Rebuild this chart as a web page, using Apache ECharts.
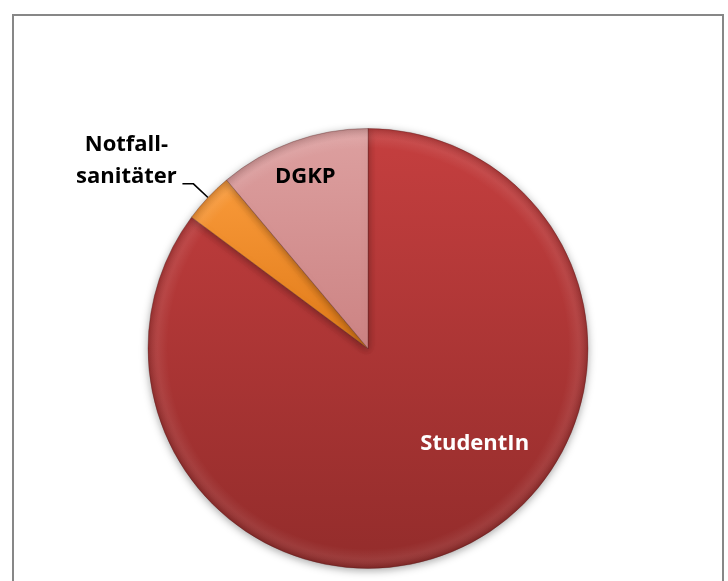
<!DOCTYPE html>
<html>
<head>
<meta charset="utf-8">
<script src="https://cdn.jsdelivr.net/npm/echarts@6/dist/echarts.min.js"></script>
<style>
html,body{margin:0;padding:0;background:#fff;}
#frame{position:absolute;left:12px;top:14px;width:708px;height:600px;border:2px solid #878787;border-bottom:none;box-sizing:content-box;}
#chart{position:absolute;left:0;top:0;width:728px;height:581px;}
</style>
</head>
<body>
<div id="frame"></div>
<div id="chart"></div>
<script>
const categories = ['StudentIn', 'Notfall-\nsanitäter', 'DGKP'];
const values = [69, 3, 9];
const topColors = ['#C53F3F', '#F99A3A', '#DDA0A0'];
const bottomColors = ['#932C2B', '#E07A18', '#CC8383'];
const textColors = ['#FFFFFF', '#000000', '#000000'];

const chart = echarts.init(document.getElementById('chart'), null, {renderer: 'canvas'});
const FONT = '"Open Sans"';
const FS = 22;
const CX = 368, CY = 348.5, R = 220;

const data = categories.map((name, i) => {
  const item = {
    name: name,
    value: values[i],
    itemStyle: {
      color: new echarts.graphic.LinearGradient(0, 0, 0, 1, [
        {offset: 0, color: topColors[i]},
        {offset: 1, color: bottomColors[i]}
      ]),
      borderColor: 'rgba(90,30,30,0.55)',
      borderWidth: 0.6
    },
    label: {
      color: textColors[i]
    }
  };
  if (i === 1) {
    item.label = {
      show: true,
      position: 'outside',
      formatter: '{a|Notfall-}\n{a|sanitäter}',
      padding: [0, 0, 46, 0],
      rich: {a: {width: 100, align: 'center', fontSize: FS, fontWeight: 'bold', fontFamily: FONT, color: '#000', lineHeight: 32}}
    };
    item.labelLine = {show: true, length: 20, length2: 11, lineStyle: {color: '#000', width: 1.6}};
  } else {
    item.label.position = 'inside';
    item.labelLine = {show: false};
  }
  return item;
});

const offsets = [[56, -6], [0, 0], [-24, -66]];

chart.setOption({
  animation: false,
  series: [{
    type: 'pie',
    center: [CX, CY],
    radius: [0, R],
    startAngle: 90,
    clockwise: true,
    avoidLabelOverlap: false,
    itemStyle: {
      shadowBlur: 8,
      shadowColor: 'rgba(0,0,0,0.35)',
      shadowOffsetY: 2
    },
    label: {
      show: true,
      fontFamily: FONT,
      fontWeight: 'bold',
      fontSize: FS,
      distanceToLabelLine: 6
    },
    labelLayout: function (params) {
      const o = offsets[params.dataIndex];
      if (params.dataIndex === 1) return {};
      return {dx: o[0], dy: o[1]};
    },
    emphasis: {disabled: true},
    data: data
  }, {
    type: 'pie',
    center: [CX, CY],
    radius: [0, R],
    silent: true,
    label: {show: false},
    labelLine: {show: false},
    emphasis: {disabled: true},
    itemStyle: {
      borderWidth: 0,
      color: new echarts.graphic.RadialGradient(CX, CY, R, [
        {offset: 0, color: 'rgba(0,0,0,0)'},
        {offset: 0.91, color: 'rgba(255,255,255,0)'},
        {offset: 0.955, color: 'rgba(255,255,255,0.07)'},
        {offset: 1, color: 'rgba(0,0,0,0.16)'}
      ], true)
    },
    data: [{value: 1, name: ''}]
  }]
});
</script>
</body>
</html>
